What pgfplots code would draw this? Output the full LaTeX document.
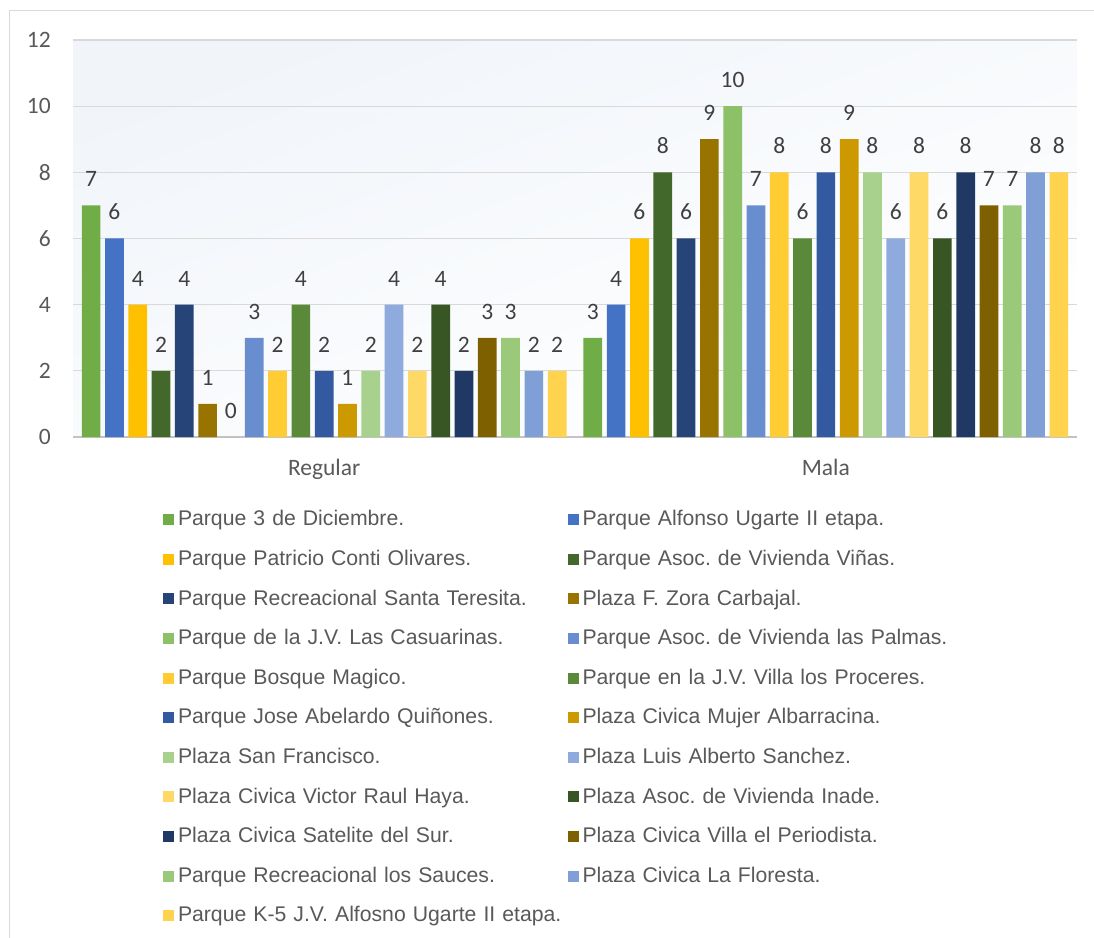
\documentclass[border=0pt]{standalone}
\usepackage{pgfplots}
\pgfplotsset{compat=1.18}
\usepackage{fontspec}
\setmainfont{Carlito}
\newfontfamily\legfont{Liberation Sans}
\frenchspacing
\definecolor{c1}{HTML}{70AD47}
\definecolor{c2}{HTML}{4472C4}
\definecolor{c3}{HTML}{FFC000}
\definecolor{c4}{HTML}{43682B}
\definecolor{c5}{HTML}{264478}
\definecolor{c6}{HTML}{997300}
\definecolor{c7}{HTML}{8CC168}
\definecolor{c8}{HTML}{698ED0}
\definecolor{c9}{HTML}{FFCD33}
\definecolor{c10}{HTML}{5A8A39}
\definecolor{c11}{HTML}{335AA1}
\definecolor{c12}{HTML}{CC9A00}
\definecolor{c13}{HTML}{A9D18E}
\definecolor{c14}{HTML}{8FAADC}
\definecolor{c15}{HTML}{FFD966}
\definecolor{c16}{HTML}{375623}
\definecolor{c17}{HTML}{203864}
\definecolor{c18}{HTML}{7F6000}
\definecolor{c19}{HTML}{9BC97A}
\definecolor{c20}{HTML}{7F9FD6}
\definecolor{c21}{HTML}{FFD34D}
\definecolor{gridc}{HTML}{D9D9D9}
\definecolor{tickc}{HTML}{595959}
\definecolor{labc}{HTML}{404040}
\definecolor{bgtop}{HTML}{F1F5FA}
\begin{document}
\begin{tikzpicture}[x=1pt,y=1pt]
\useasboundingbox (0,0) rectangle (1094,937);
\fill[white] (0,0) rectangle (1094,937);
\draw[gridc, line width=1.4pt] (9.5,-2) -- (9.5,926.5) -- (1100,926.5);
\begin{axis}[
  at={(73.3pt,500pt)}, anchor=south west,
  scale only axis, width=1003.4pt, height=397pt,
  xmin=-0.5, xmax=1.5, ymin=0, ymax=12,
  ybar=4.6pt, bar width=18.7pt,
  xtick={0,1}, xticklabels={Regular,Mala},
  ytick={0,2,4,6,8,10,12},
  /pgf/number format/assume math mode=true,
  axis x line*=bottom, axis y line*=left,
  y axis line style={draw=none},
  x axis line style={draw=gridc!90!black, line width=1.4pt},
  major tick length=0pt,
  ymajorgrids, grid style={gridc, line width=1.3pt},
  axis background/.style={shade, top color=bgtop, bottom color=white, shading angle=20},
  tick label style={font=\fontsize{23.5}{28}\selectfont, text=tickc},
  yticklabel style={anchor=east, inner sep=0pt, xshift=-22.3pt},
  xticklabel style={anchor=base, inner sep=0pt, yshift=-38.6pt},
  nodes near coords,
  every node near coord/.append style={font=\fontsize{23.5}{28}\selectfont, text=labc, anchor=base, inner sep=0pt, yshift=18.5pt},
  clip=false,
  legend columns=2,
  legend image code/.code={\fill[#1] (0pt,0.8pt) rectangle (11pt,11.8pt);},
  legend style={at={(axis description cs:0.0894,-0.18363)}, anchor=north west,
    draw=none, fill=none, inner sep=0pt, outer sep=0pt, row sep=18.6pt,
    cells={anchor=base west},
    nodes={inner sep=0pt, text width=389.5pt, align=left, text height=16pt, text depth=5pt,
      font=\legfont\fontsize{21.2}{26}\selectfont\frenchspacing, text=tickc},
    /tikz/every odd column/.append style={column sep=4pt},
    /tikz/every even column/.append style={column sep=0pt}},
]
\addplot[fill=c1, draw=none] coordinates {(0,7) (1,3)};
\addlegendentry{Parque 3 de Diciembre.}
\addplot[fill=c2, draw=none] coordinates {(0,6) (1,4)};
\addlegendentry{Parque Alfonso Ugarte II etapa.}
\addplot[fill=c3, draw=none] coordinates {(0,4) (1,6)};
\addlegendentry{Parque Patricio Conti Olivares.}
\addplot[fill=c4, draw=none] coordinates {(0,2) (1,8)};
\addlegendentry{Parque Asoc. de Vivienda Viñas.}
\addplot[fill=c5, draw=none] coordinates {(0,4) (1,6)};
\addlegendentry{Parque Recreacional Santa Teresita.}
\addplot[fill=c6, draw=none] coordinates {(0,1) (1,9)};
\addlegendentry{Plaza F. Zora Carbajal.}
\addplot[fill=c7, draw=none] coordinates {(0,0) (1,10)};
\addlegendentry{Parque de la J.V. Las Casuarinas.}
\addplot[fill=c8, draw=none] coordinates {(0,3) (1,7)};
\addlegendentry{Parque Asoc. de Vivienda las Palmas.}
\addplot[fill=c9, draw=none] coordinates {(0,2) (1,8)};
\addlegendentry{Parque Bosque Magico.}
\addplot[fill=c10, draw=none] coordinates {(0,4) (1,6)};
\addlegendentry{Parque en la J.V. Villa los Proceres.}
\addplot[fill=c11, draw=none] coordinates {(0,2) (1,8)};
\addlegendentry{Parque Jose Abelardo Quiñones.}
\addplot[fill=c12, draw=none] coordinates {(0,1) (1,9)};
\addlegendentry{Plaza Civica Mujer Albarracina.}
\addplot[fill=c13, draw=none] coordinates {(0,2) (1,8)};
\addlegendentry{Plaza San Francisco.}
\addplot[fill=c14, draw=none] coordinates {(0,4) (1,6)};
\addlegendentry{Plaza Luis Alberto Sanchez.}
\addplot[fill=c15, draw=none] coordinates {(0,2) (1,8)};
\addlegendentry{Plaza Civica Victor Raul Haya.}
\addplot[fill=c16, draw=none] coordinates {(0,4) (1,6)};
\addlegendentry{Plaza Asoc. de Vivienda Inade.}
\addplot[fill=c17, draw=none] coordinates {(0,2) (1,8)};
\addlegendentry{Plaza Civica Satelite del Sur.}
\addplot[fill=c18, draw=none] coordinates {(0,3) (1,7)};
\addlegendentry{Plaza Civica Villa el Periodista.}
\addplot[fill=c19, draw=none] coordinates {(0,3) (1,7)};
\addlegendentry{Parque Recreacional los Sauces.}
\addplot[fill=c20, draw=none] coordinates {(0,2) (1,8)};
\addlegendentry{Plaza Civica La Floresta.}
\addplot[fill=c21, draw=none] coordinates {(0,2) (1,8)};
\addlegendentry{\mbox{Parque K-5 J.V. Alfosno Ugarte II etapa.}}
\end{axis}
\end{tikzpicture}
\end{document}
